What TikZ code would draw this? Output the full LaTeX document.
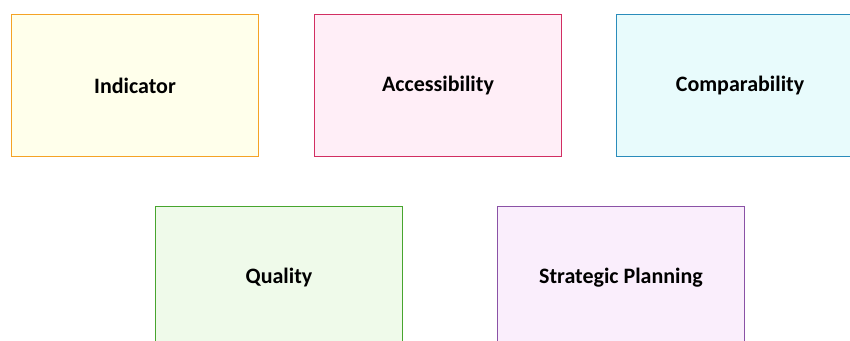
\documentclass[tikz,border=0pt]{standalone}
\usepackage{fontspec}
\setmainfont{Carlito}
\usepackage{tikz}
\usetikzlibrary{positioning}
\definecolor{indline}{HTML}{F5A325}
\definecolor{indfill}{HTML}{FFFFEB}
\definecolor{accline}{HTML}{D22E62}
\definecolor{accfill}{HTML}{FFEEF7}
\definecolor{cmpline}{HTML}{2A8CBB}
\definecolor{cmpfill}{HTML}{E8FBFC}
\definecolor{qualine}{HTML}{47A52E}
\definecolor{quafill}{HTML}{EFFAEA}
\definecolor{strline}{HTML}{8A52A6}
\definecolor{strfill}{HTML}{FAEEFC}

\begin{document}
\begin{tikzpicture}[x=1pt,y=-1pt,
  aspect/.style={draw=#1line,fill=#1fill,line width=1.6pt,
    minimum width=247pt,minimum height=142pt,inner sep=0pt,
    font=\fontsize{22}{26}\selectfont\bfseries}]

\useasboundingbox (0,0) rectangle (850,340);
\clip (0,0) rectangle (850,340);

% top row
\node (ind) [aspect=ind] at (135,85.5) {Indicator};
\node (acc) [aspect=acc] at (438,85.5) {Accessibility};
\node (cmp) [aspect=cmp] at (740,85.5) {Comparability};

% bottom row
\node (qua) [aspect=qua] at (279,277.5) {Quality};
\node (str) [aspect=str] at (621,277.5) {Strategic Planning};

\end{tikzpicture}
\end{document}
